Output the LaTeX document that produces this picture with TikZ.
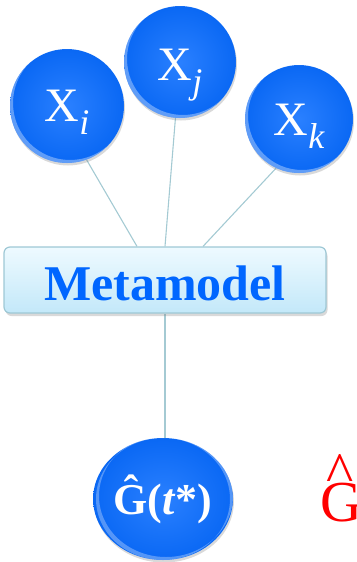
\documentclass[tikz,border=0pt]{standalone}
\usepackage{fontspec}
\setmainfont{Liberation Serif}
\usetikzlibrary{shapes.geometric,shadows,backgrounds}
\definecolor{ballc}{HTML}{2A80FF}
\definecolor{ballm}{HTML}{0A68F4}
\definecolor{balle}{HTML}{0050D0}
\definecolor{linec}{HTML}{A4CAD3}
\definecolor{boxtop}{HTML}{EEFAFF}
\definecolor{boxbot}{HTML}{C3E8F9}
\definecolor{boxline}{HTML}{9EC8D5}
\definecolor{metablue}{HTML}{0066FF}
\pgfdeclareradialshading{ballshade}{\pgfpoint{0bp}{0bp}}{color(0bp)=(ballc); color(25bp)=(ballm); color(44bp)=(ballm); color(50bp)=(balle)}
\newcommand{\xsub}[1]{X\raisebox{-13pt}{\fontsize{36}{36}\selectfont\itshape #1}}
\tikzset{
  ball/.style={circle, inner sep=0pt, minimum size=#1, shading=ballshade, text=white,
    font=\fontsize{48}{48}\selectfont, text depth=0pt,
    drop shadow={opacity=0.3, shadow xshift=1pt, shadow yshift=-2.5pt},
    path picture={\fill[white, opacity=0.35, even odd rule]
      (path picture bounding box.center) circle[radius=#1/2]
      ([shift={(3pt,3pt)}]path picture bounding box.center) circle[radius=#1/2];}},
  gball/.style={ellipse, inner sep=0pt, minimum width=134pt, minimum height=122pt,
    shading=ballshade, text=white, font=\fontsize{44}{44}\selectfont\bfseries,
    text height=30pt, text depth=0pt,
    drop shadow={opacity=0.3, shadow xshift=1pt, shadow yshift=-2.5pt},
    path picture={\fill[white, opacity=0.3, even odd rule]
      (path picture bounding box.center) ellipse[x radius=67pt, y radius=61pt]
      ([shift={(3pt,3pt)}]path picture bounding box.center) ellipse[x radius=67pt, y radius=61pt];}},
  metabox/.style={rectangle, rounded corners=6pt, draw=boxline, line width=1.2pt,
    top color=boxtop, bottom color=boxbot, minimum width=322pt, minimum height=66pt,
    inner sep=0pt, text=metablue, font=\fontsize{50}{50}\selectfont\bfseries,
    text height=40pt, text depth=0pt,
    drop shadow={opacity=0.3, shadow xshift=1.5pt, shadow yshift=-3pt}},
  conn/.style={draw=linec, line width=1.1pt},
  redtext/.style={anchor=base west, inner sep=0pt, text=red, font=\fontsize{58}{58}\selectfont}
}
\begin{document}
\begin{tikzpicture}[x=1pt,y=1pt]
\useasboundingbox (0,0) rectangle (356,-562);
\clip (0,0) rectangle (356,-562);
\node[ball=114pt, text height=30pt] (xi) at (67,-106) {\xsub{i}};
\node[ball=112pt, text height=36pt] (xj) at (180,-62) {\xsub{j}};
\node[ball=108pt, text height=32pt] (xk) at (299,-119) {\xsub{k}};
\node[metabox] (meta) at (165,-280) {Metamodel};
\node[gball] (g) at (163,-499) {Ĝ(\textit{t}*)};
\node[redtext] (rcaret) at (326,-492) {\textasciicircum};
\node[redtext] (rg) at (320,-521) {G};
\begin{scope}[on background layer]
\draw[conn] (xi.290) -- ([xshift=-28pt]meta.north);
\draw[conn] (xj.center) -- (meta.north);
\draw[conn] (xk.245) -- ([xshift=38pt]meta.north);
\draw[conn] (meta.south) -- (meta.south |- g.north);
\end{scope}
\end{tikzpicture}
\end{document}
